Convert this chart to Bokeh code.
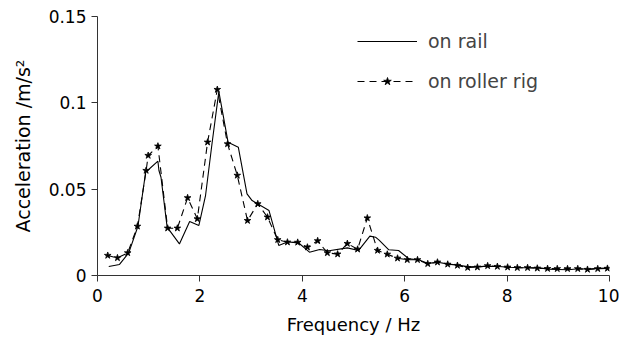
from bokeh.plotting import figure
from bokeh.models import Legend, LegendItem, FixedTicker, Range1d
from bokeh.embed import file_html
from bokeh.resources import INLINE

# ---- data ----
rail_f = [0.22, 0.43, 0.61, 0.79, 0.94, 1.18, 1.20, 1.24, 1.36, 1.60, 1.80, 1.98,
          2.11, 2.24, 2.37, 2.55, 2.75, 2.92, 3.02, 3.35, 3.54, 3.72, 3.93, 4.14,
          4.34, 4.52, 4.88, 5.10, 5.32, 5.43, 5.50, 5.69, 5.88, 6.08, 6.27, 6.46,
          6.65, 6.85, 7.04, 7.25, 7.43, 7.64, 7.84, 8.04, 8.23, 8.42, 8.61, 8.80,
          9.00, 9.20, 9.39, 9.58, 9.78, 9.97]
rail_a = [0.0052, 0.0064, 0.0131, 0.0285, 0.0598, 0.0662, 0.0608, 0.0569, 0.0280,
          0.0183, 0.0313, 0.0290, 0.0463, 0.0772, 0.1065, 0.0772, 0.0743, 0.0473,
          0.0434, 0.0376, 0.0174, 0.0195, 0.0188, 0.0135, 0.0151, 0.0143, 0.0160,
          0.0145, 0.0228, 0.0222, 0.0205, 0.0149, 0.0145, 0.0097, 0.0091, 0.0070,
          0.0077, 0.0066, 0.0060, 0.0050, 0.0052, 0.0054, 0.0052, 0.0048, 0.0045,
          0.0045, 0.0045, 0.0037, 0.0035, 0.0033, 0.0039, 0.0037, 0.0041, 0.0043]

rig_f = [0.20, 0.39, 0.59, 0.78, 0.95, 0.99, 1.18, 1.37, 1.56, 1.76, 1.95, 2.15,
         2.34, 2.54, 2.73, 2.93, 3.13, 3.32, 3.52, 3.71, 3.91, 4.10, 4.30, 4.49,
         4.69, 4.88, 5.08, 5.27, 5.47, 5.66, 5.86, 6.05, 6.25, 6.45, 6.64, 6.84,
         7.03, 7.23, 7.42, 7.62, 7.81, 8.01, 8.20, 8.40, 8.59, 8.79, 8.98, 9.18,
         9.38, 9.57, 9.77, 9.96]
rig_a = [0.0116, 0.0102, 0.0131, 0.0285, 0.0608, 0.0695, 0.0749, 0.0274, 0.0274,
         0.0450, 0.0328, 0.0772, 0.1077, 0.0762, 0.0580, 0.0318, 0.0415, 0.0338,
         0.0207, 0.0193, 0.0192, 0.0164, 0.0201, 0.0131, 0.0124, 0.0185, 0.0152,
         0.0333, 0.0145, 0.0123, 0.0100, 0.0091, 0.0091, 0.0068, 0.0077, 0.0065,
         0.0058, 0.0046, 0.0048, 0.0056, 0.0052, 0.0048, 0.0045, 0.0045, 0.0042,
         0.0040, 0.0039, 0.0039, 0.0039, 0.0035, 0.0039, 0.0041]

x_ticks = [0, 2, 4, 6, 8, 10]
y_ticks = [0, 0.05, 0.1, 0.15]
y_tick_labels = ["0", "0.05", "0.1", "0.15"]

FONT = "DejaVu Sans"

p = figure(width=619, height=338, output_backend="svg", toolbar_location=None,
           x_range=Range1d(0, 10), y_range=Range1d(0, 0.15),
           min_border_left=97, min_border_right=10, min_border_top=16,
           min_border_bottom=63)
p.outline_line_color = None
p.grid.visible = False
p.background_fill_color = "white"

r_rail = p.line(rail_f, rail_a, line_color="black", line_width=1.1)
r_rig = p.line(rig_f, rig_a, line_color="black", line_width=1.1, line_dash="7 5")
r_star = p.scatter(rig_f, rig_a, marker="star", size=7, line_color="black",
                   fill_color="black", line_width=0.8)

for ax in (p.xaxis[0], p.yaxis[0]):
    ax.major_tick_in = 0
    ax.major_tick_out = 6
    ax.minor_tick_line_color = None
    ax.axis_line_color = "#333333"
    ax.major_tick_line_color = "#333333"
    ax.major_label_text_font = FONT
    ax.major_label_text_font_size = "17px"
    ax.major_label_text_color = "black"
    ax.axis_label_text_font = FONT
    ax.axis_label_text_font_size = "18px"
    ax.axis_label_text_font_style = "normal"
    ax.axis_label_text_color = "black"

p.xaxis.ticker = FixedTicker(ticks=x_ticks)
p.xaxis.major_label_standoff = 7
p.yaxis.ticker = FixedTicker(ticks=y_ticks)
p.yaxis.major_label_overrides = dict(zip(y_ticks, y_tick_labels))
p.yaxis.axis_label = "Acceleration /m/s²"
p.yaxis.axis_label_text_font_size = "19px"
p.yaxis.axis_label_standoff = 12
p.xaxis.axis_label = "Frequency / Hz"
p.xaxis.axis_label_standoff = 9

legend = Legend(items=[LegendItem(label="on rail", renderers=[r_rail]),
                       LegendItem(label="on roller rig", renderers=[r_rig, r_star])],
                location=(260, 183), glyph_width=60, glyph_height=20,
                label_height=20, spacing=18, label_standoff=11, padding=0,
                margin=0, border_line_color=None, background_fill_alpha=0,
                label_text_font=FONT, label_text_font_size="19px")
p.add_layout(legend)

open("out.html", "w").write(file_html(p, INLINE))
